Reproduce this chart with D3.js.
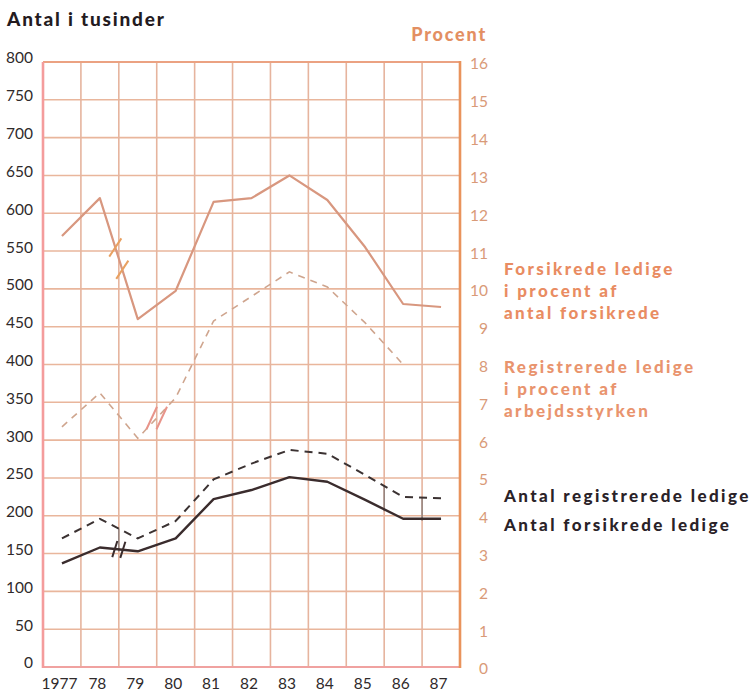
<!DOCTYPE html>
<html><head><meta charset="utf-8">
<script src="https://cdn.jsdelivr.net/npm/d3@7"></script>
<style>body{margin:0;background:#fff}svg{display:block}text{font-family:Lato,"Open Sans",sans-serif}</style>
</head><body>
<svg id="c" width="751" height="691"></svg>
<script>
const years = [1977,1978,1979,1980,1981,1982,1983,1984,1985,1986,1987];
const yearLabels = ["1977","78","79","80","81","82","83","84","85","86","87"];
const leftTicks = [0,50,100,150,200,250,300,350,400,450,500,550,600,650,700,750,800];
const rightTicks = [0,1,2,3,4,5,6,7,8,9,10,11,12,13,14,15,16];
// Forsikrede ledige i procent af antal forsikrede
const forsikredePct = [11.4,12.4,9.2,9.95,12.3,12.4,13.0,12.35,11.1,9.6,9.52];
// Registrerede ledige i procent af arbejdsstyrken
const registreredePct = [6.35,7.25,6.05,7.12,9.15,9.8,10.45,10.05,9.1,8.0,null];
// Antal registrerede ledige (tusinder)
const antalRegistrerede = [170,196,170,193,248,269,287,282,254,225,223];
// Antal forsikrede ledige (tusinder)
const antalForsikrede = [137,158,153,170,222,234,251,245,221,196,196];
// series breaks (between years)
const breaks = [
  {series:"forsikredePct", after:1978},
  {series:"registreredePct", after:1979},
  {series:"antalForsikrede", after:1978}
];
// grey connectors between the two "Antal" series
const connectorsAt = [1978.5, 1985.5, 1986.5];

const svg = d3.select("#c");
const x = d3.scaleLinear().domain([1976.5,1987.5]).range([43,460]);
const yL = d3.scaleLinear().domain([0,800]).range([667,62]);
const yR = d3.scaleLinear().domain([0,16]).range([667,62]);

// grid
const g = svg.append("g");
g.selectAll(".h").data(leftTicks.slice(1,-1)).enter().append("line")
  .attr("x1",x(1976.5)).attr("x2",x(1987.5)).attr("y1",d=>yL(d)).attr("y2",d=>yL(d))
  .attr("stroke","#e9b69c").attr("stroke-width",1.6);
const vb = d3.range(1977.5,1987.5,1);
g.selectAll(".v").data(vb).enter().append("line")
  .attr("x1",d=>x(d)).attr("x2",d=>x(d)).attr("y1",yL(800)).attr("y2",yL(0))
  .attr("stroke","#e6b49e").attr("stroke-width",1.6);
// frame
g.append("line").attr("x1",x(1976.5)).attr("x2",x(1987.5)).attr("y1",yL(800)).attr("y2",yL(800)).attr("stroke","#eba282").attr("stroke-width",2.2);
g.append("line").attr("x1",x(1976.5)).attr("x2",x(1987.5)).attr("y1",yL(0)).attr("y2",yL(0)).attr("stroke","#f0a2a0").attr("stroke-width",2.2);
g.append("line").attr("x1",x(1976.5)).attr("x2",x(1976.5)).attr("y1",yL(800)).attr("y2",yL(0)+1).attr("stroke","#f49c9c").attr("stroke-width",2.6);
g.append("line").attr("x1",x(1987.5)).attr("x2",x(1987.5)).attr("y1",yL(800)-1).attr("y2",yL(0)+1).attr("stroke","#e9935c").attr("stroke-width",2.6);

// axes
const axL = svg.append("g").attr("transform","translate(33,0)")
  .call(d3.axisLeft(yL).tickValues(leftTicks).tickSize(0).tickPadding(0));
axL.select(".domain").remove();
axL.selectAll("text").attr("dy","0.06em").attr("fill","#2f2a2b").style("font-size","15.5px").style("font-family","Lato");

const axR = svg.append("g").attr("transform","translate(488,0)")
  .call(d3.axisLeft(yR).tickValues(rightTicks).tickSize(0).tickPadding(0));
axR.select(".domain").remove();
axR.selectAll("text").attr("dy","0.45em").attr("fill","#d99a78").style("font-size","15.5px").style("font-family","Lato");

const axB = svg.append("g").attr("transform","translate(-3,678)")
  .call(d3.axisBottom(x).tickValues(years).tickFormat((d,i)=>yearLabels[i]).tickSize(0).tickPadding(0));
axB.select(".domain").remove();
axB.selectAll("text").attr("dy","0.72em").attr("fill","#2f2a2b").style("font-size","15.5px").style("font-family","Lato");

// connectors
const interp = (arr,t)=>{const i=Math.floor(t)-1977; return arr[i]+(arr[i+1]-arr[i])*(t-Math.floor(t));};
svg.selectAll(".conn").data(connectorsAt).enter().append("line")
  .attr("x1",d=>x(d)).attr("x2",d=>x(d))
  .attr("y1",d=>yL(interp(antalRegistrerede,d))).attr("y2",d=>yL(interp(antalForsikrede,d))+2)
  .attr("stroke","#8c7f7c").attr("stroke-width",1.4);

// lines
const mk = (sc)=>d3.line().defined(d=>d[1]!=null).x(d=>x(d[0])).y(d=>sc(d[1]));
const zip = arr => years.map((yr,i)=>[yr,arr[i]]);
svg.append("path").attr("d",mk(yR)(zip(forsikredePct))).attr("fill","none")
  .attr("stroke","#d8977f").attr("stroke-width",2.2).attr("stroke-linejoin","round");
svg.append("path").attr("d",mk(yR)(zip(registreredePct))).attr("fill","none")
  .attr("stroke","#cfa58e").attr("stroke-width",1.6).attr("stroke-dasharray","7,6");
svg.append("path").attr("d",mk(yL)(zip(antalRegistrerede))).attr("fill","none")
  .attr("stroke","#3b3232").attr("stroke-width",2).attr("stroke-dasharray","8,6");
svg.append("path").attr("d",mk(yL)(zip(antalForsikrede))).attr("fill","none")
  .attr("stroke","#3a2c2d").attr("stroke-width",2.4).attr("stroke-linejoin","round");

// break marks: [values, scale, colour, length, dirX, dirY, separation, follow line?]
const seriesMap = {
  forsikredePct:[forsikredePct,yR,"#e8a060",22,0.55,-0.83,7,true],
  registreredePct:[registreredePct,yR,"#e8948a",25,0.42,-0.9,10,false],
  antalForsikrede:[antalForsikrede,yL,"#3a2c2d",17,0.3,-0.95,8,true]};
breaks.forEach(b=>{
  const [arr,sc,col,len,dx,dy,sep,follow] = seriesMap[b.series];
  const i = years.indexOf(b.after);
  const x0=x(years[i]), y0=sc(arr[i]), x1=x(years[i+1]), y1=sc(arr[i+1]);
  const mx=(x0+x1)/2, my=(y0+y1)/2;
  [-sep/2,sep/2].forEach(o=>{
    const cx=mx+o, cy=follow ? y0+(y1-y0)*(cx-x0)/(x1-x0) : my;
    svg.append("line").attr("x1",cx-dx*len/2).attr("y1",cy-dy*len/2).attr("x2",cx+dx*len/2).attr("y2",cy+dy*len/2)
      .attr("stroke",col).attr("stroke-width",2);
  });
});

// titles
svg.append("text").attr("x",7).attr("y",26).text("Antal i tusinder")
  .attr("fill","#241b1f").style("font-size","19px").style("font-weight","900").style("letter-spacing","1.8px");
svg.append("text").attr("x",487).attr("y",41).attr("text-anchor","end").text("Procent")
  .attr("fill","#e38f62").style("font-size","18px").style("font-weight","900").style("letter-spacing","1.8px");

// legend
const leg = [
  {lines:["Forsikrede ledige","i procent af","antal forsikrede"], y:275, col:"#e98c62"},
  {lines:["Registrerede ledige","i procent af","arbejdsstyrken"], y:373, col:"#e9946e"},
  {lines:["Antal registrerede ledige"], y:502, col:"#2a2228"},
  {lines:["Antal forsikrede ledige"], y:531, col:"#2a2228"}
];
leg.forEach(l=>{
  const t = svg.append("text").attr("x",504).attr("y",l.y).attr("fill",l.col)
    .style("font-size","17px").style("font-weight","900").style("letter-spacing","2.4px");
  l.lines.forEach((s,i)=>t.append("tspan").attr("x",504).attr("dy",i?22:0).text(s));
});
</script>
</body></html>
